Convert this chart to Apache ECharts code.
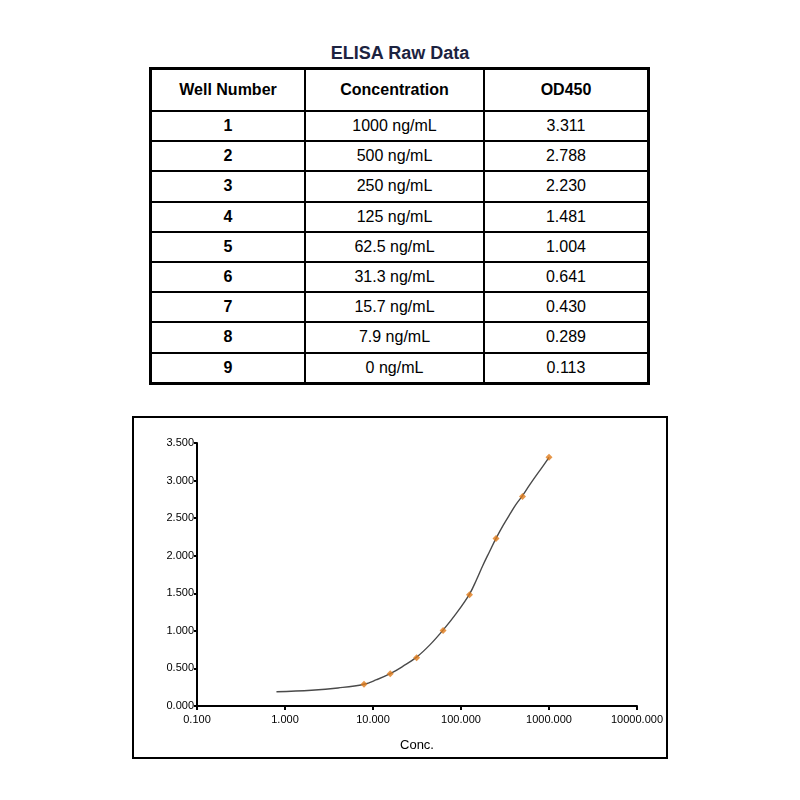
<!DOCTYPE html>
<html>
<head>
<meta charset="utf-8">
<script src="https://cdn.jsdelivr.net/npm/echarts@6/dist/echarts.min.js"></script>
<style>
  body { margin:0; background:#fff; font-family:"Liberation Sans", Arial, sans-serif; }
  #title { position:absolute; left:0; width:800px; top:43px; text-align:center;
           font-size:18px; font-weight:bold; color:#1c2340; }
  #tbl { position:absolute; left:149px; top:67px; width:501px; border-collapse:collapse;
         border:3px solid #000; font-size:16px; color:#000; }
  #tbl td, #tbl th { border:2px solid #000; text-align:center; padding:0; }
  #tbl th { height:40px; font-weight:bold; }
  #tbl td { height:28.2px; }
  #tbl td.w { font-weight:bold; }
  #chart { position:absolute; left:132px; top:416px; width:532px; height:339px; border:2px solid #000; }
</style>
</head>
<body>
<div id="title">ELISA Raw Data</div>
<table id="tbl"></table>
<div id="chart"></div>
<script>
// table data
var wells = ['1','2','3','4','5','6','7','8','9'];
var concLabels = ['1000 ng/mL','500 ng/mL','250 ng/mL','125 ng/mL','62.5 ng/mL','31.3 ng/mL','15.7 ng/mL','7.9 ng/mL','0 ng/mL'];
var od450 = [3.311, 2.788, 2.230, 1.481, 1.004, 0.641, 0.430, 0.289, 0.113];
var concValues = [1000, 500, 250, 125, 62.5, 31.3, 15.7, 7.9, 0];

// fitted curve
var fitConc = [0.8, 2, 4, 7.9, 11, 15.7, 22, 31.3, 44, 62.5, 88, 125, 150, 177, 210, 250, 300, 354, 420, 500, 600, 707, 850, 1000];
var fitOD   = [0.19, 0.21, 0.24, 0.29, 0.35, 0.43, 0.53, 0.65, 0.81, 1.01, 1.23, 1.49, 1.68, 1.87, 2.05, 2.23, 2.40, 2.54, 2.68, 2.80, 2.94, 3.06, 3.19, 3.31];

var html = '<tr><th style="width:152px">Well Number</th><th style="width:177px">Concentration</th><th>OD450</th></tr>';
for (var i = 0; i < wells.length; i++) {
    html += '<tr><td class="w">' + wells[i] + '</td><td>' + concLabels[i] + '</td><td>' + od450[i].toFixed(3) + '</td></tr>';
}
document.getElementById('tbl').innerHTML = html;

// points (0 ng/mL can't go on a log axis)
var pts = [];
for (var j = 0; j < concValues.length; j++) {
    if (concValues[j] > 0) pts.push([concValues[j], od450[j]]);
}
var fit = fitConc.map(function (c, k) { return [c, fitOD[k]]; });

var chart = echarts.init(document.getElementById('chart'));
var option = {
    animation: false,
    textStyle: { fontFamily: 'Liberation Sans, Arial, sans-serif' },
    grid: { left: 63, right: 23, top: 25, bottom: 49 },
    xAxis: {
        type: 'log', logBase: 10, min: 0.1, max: 10000,
        name: 'Conc.', nameLocation: 'middle', nameGap: 33,
        nameTextStyle: { fontSize: 13, color: '#000' },
        axisLine: { lineStyle: { color: '#000', width: 2 } },
        axisTick: { length: 4, lineStyle: { color: '#000', width: 2 } },
        axisLabel: { fontSize: 11, color: '#000', margin: 8,
            formatter: function (v) { return Number(v).toFixed(3); } },
        minorTick: { show: false },
        splitLine: { show: false }
    },
    yAxis: {
        type: 'value', min: 0, max: 3.5, interval: 0.5,
        axisLine: { show: true, lineStyle: { color: '#000', width: 2 } },
        axisTick: { show: true, length: 3, lineStyle: { color: '#000', width: 2 } },
        axisLabel: { fontSize: 11, color: '#000', margin: 3,
            formatter: function (v) { return v.toFixed(3); } },
        splitLine: { show: false }
    },
    series: [{
        type: 'line',
        data: fit,
        smooth: 0.4,
        showSymbol: false,
        lineStyle: { color: '#4a4a4a', width: 1.4 },
        z: 2
    }, {
        type: 'scatter',
        data: pts,
        symbol: 'diamond',
        symbolSize: 7,
        itemStyle: { color: '#e07c1c' },
        z: 3
    }]
};
chart.setOption(option);
</script>
</body>
</html>
